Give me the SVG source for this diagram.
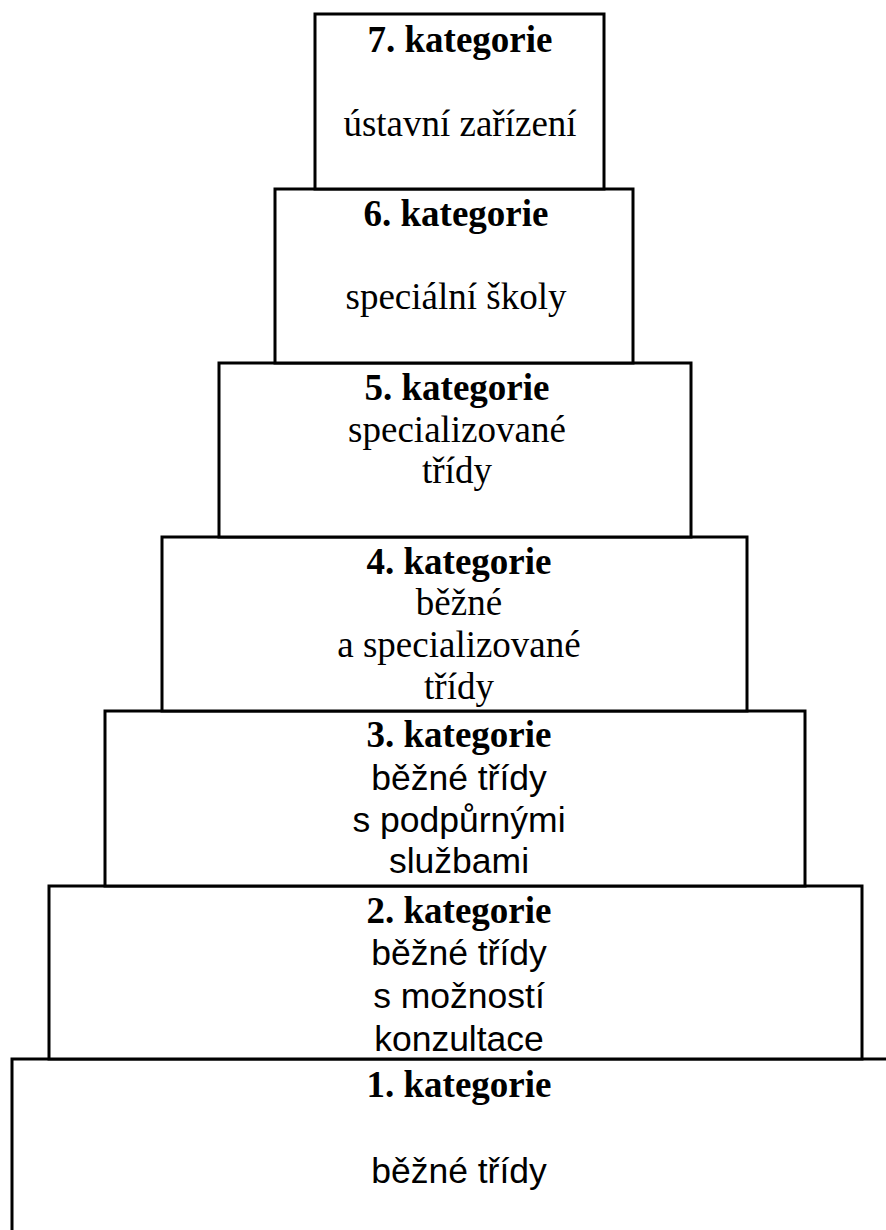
<svg xmlns="http://www.w3.org/2000/svg" width="886" height="1230" viewBox="0 0 886 1230">
<style>
.box{fill:#fff;stroke:#000;stroke-width:3}
.h{font-family:"Liberation Serif","Times New Roman",serif;font-weight:bold;font-size:37px;text-anchor:middle;fill:#000}
.s{font-family:"Liberation Serif","Times New Roman",serif;font-size:37px;text-anchor:middle;fill:#000}
.a{font-family:"Liberation Sans",Arial,sans-serif;font-size:35.5px;text-anchor:middle;fill:#000}
</style>
<rect width="886" height="1230" fill="#fff"/>
<g id="connectors"></g>
<g id="cat1">
<rect class="box" x="12" y="1059" width="900" height="200"/>
<text class="h" x="459" y="1097">1. kategorie</text>
<text class="a" x="459" y="1183">běžné třídy</text>
</g>
<g id="cat2">
<rect class="box" x="49" y="886" width="813" height="173"/>
<text class="h" x="459" y="923">2. kategorie</text>
<text class="a" x="459" y="965">běžné třídy</text>
<text class="a" x="459" y="1008">s možností</text>
<text class="a" x="459" y="1051">konzultace</text>
</g>
<g id="cat3">
<rect class="box" x="105" y="711" width="700" height="175"/>
<text class="h" x="459" y="747">3. kategorie</text>
<text class="a" x="459" y="790">běžné třídy</text>
<text class="a" x="459" y="832">s podpůrnými</text>
<text class="a" x="459" y="873">službami</text>
</g>
<g id="cat4">
<rect class="box" x="162" y="537" width="585" height="174"/>
<text class="h" x="459" y="574">4. kategorie</text>
<text class="s" x="459" y="615">běžné</text>
<text class="s" x="459" y="657">a specializované</text>
<text class="s" x="459" y="699">třídy</text>
</g>
<g id="cat5">
<rect class="box" x="219" y="363" width="472" height="174"/>
<text class="h" x="457" y="400">5. kategorie</text>
<text class="s" x="457" y="442">specializované</text>
<text class="s" x="457" y="483">třídy</text>
</g>
<g id="cat6">
<rect class="box" x="275" y="189" width="358" height="174"/>
<text class="h" x="456" y="226">6. kategorie</text>
<text class="s" x="456" y="309">speciální školy</text>
</g>
<g id="cat7">
<rect class="box" x="315" y="14" width="289" height="175"/>
<text class="h" x="460" y="52">7. kategorie</text>
<text class="s" x="460" y="136">ústavní zařízení</text>
</g>
</svg>
